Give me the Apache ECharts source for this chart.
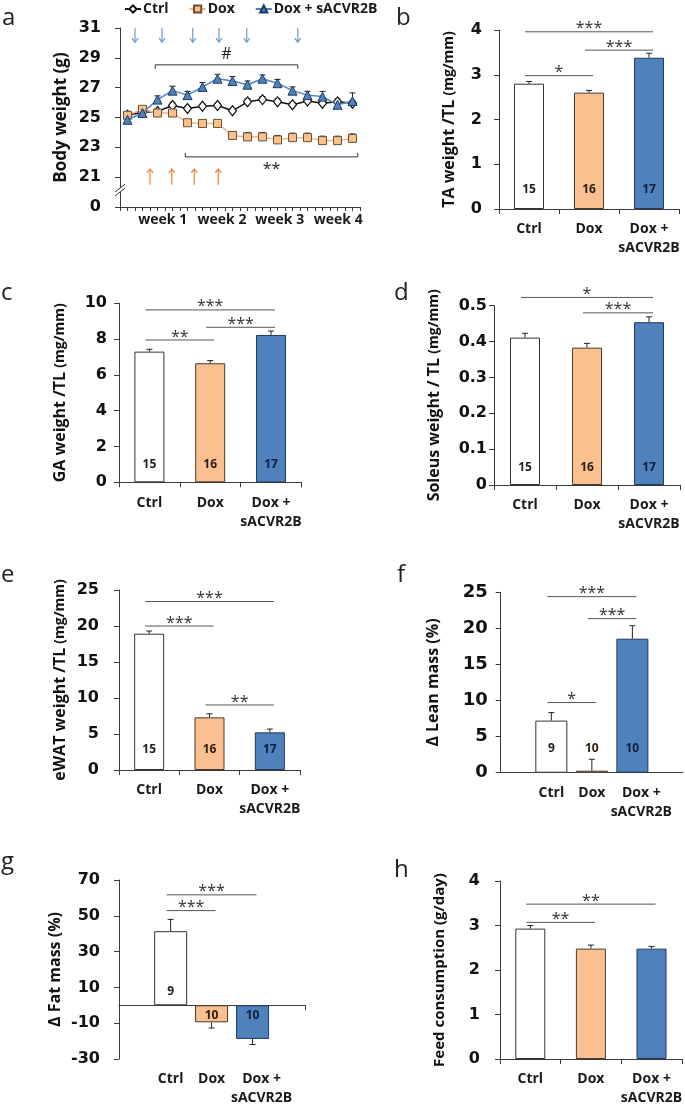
<!DOCTYPE html>
<html><head><meta charset="utf-8">
<script src="https://cdn.jsdelivr.net/npm/echarts@6/dist/echarts.min.js"></script>
<style>html,body{margin:0;padding:0;background:#fff}#c{width:685px;height:1108px}</style>
</head><body><div id="c"></div>
<script>
// ================= DATA =================
const groupLabels = ['Ctrl', 'Dox', 'Dox +\nsACVR2B'];
const seriesNames = ['Ctrl', 'Dox', 'Dox + sACVR2B'];
// label positions on the numeric group axis of panels f and g
const groupLabelPos = [0, 1, 2.22];

// panel a : body weight time course
const timePoints = [1,3,5,7,9,11,13,15,17,19,21,23,25,27,29,31];
const weekLabels = ['week 1','week 2','week 3','week 4'];
const weekPos = [5.7, 13.6, 21.3, 29.1];
const bwCtrl    = [25.15,25.35,25.4,25.8,25.6,25.75,25.8,25.45,26.05,26.2,26.05,25.85,26.1,25.95,26.05,25.95];
const bwCtrlErr = [0.1,0.15,0.15,0.2,0.15,0.15,0.15,0.15,0.2,0.2,0.2,0.15,0.2,0.2,0.2,0.2];
const bwDox     = [25.15,25.55,25.3,25.3,24.65,24.6,24.6,23.8,23.7,23.7,23.5,23.65,23.65,23.45,23.45,23.6];
const bwDoxErr  = [0.15,0.15,0.15,0.15,0.15,0.15,0.2,0.25,0.3,0.3,0.3,0.3,0.3,0.3,0.3,0.3];
const bwSac     = [24.85,25.3,26.2,26.8,26.5,27.05,27.6,27.45,27.2,27.6,27.3,26.8,26.5,26.4,25.85,26.1];
const bwSacErr  = [0.15,0.2,0.25,0.3,0.25,0.3,0.3,0.3,0.25,0.25,0.25,0.25,0.25,0.35,0.3,0.55];
const sacInjections = [2, 5.6, 9.7, 13.2, 16.9, 23.7];
const doxInjections = [4, 6.9, 9.9, 13.1];
const bracketsA = [[4.7, 23.7, 28.53], [8.7, 31.7, 22.36]];
const bracketsAText = ['#', '**'];

// panel b : TA
const taMean = [2.80, 2.60, 3.38];
const taErr  = [0.05, 0.05, 0.10];
const taN    = [15, 16, 17];
const taSig  = [[0,2,3.96],[1,2,3.55],[0,1,2.98]];
const taSigText = ['***','***','*'];
// panel c : GA
const gaMean = [7.30, 6.65, 8.23];
const gaErr  = [0.13, 0.15, 0.22];
const gaN    = [15, 16, 17];
const gaSig  = [[0,2,9.63],[1,2,8.66],[0,1,7.95]];
const gaSigText = ['***','***','**'];
// panel d : Soleus
const solMean = [0.411, 0.383, 0.454];
const solErr  = [0.012, 0.012, 0.015];
const solN    = [15, 16, 17];
const solSig  = [[0,2,0.523],[1,2,0.48]];
const solSigText = ['*','***'];
// panel e : eWAT
const ewatMean = [18.93, 7.31, 5.23];
const ewatErr  = [0.37, 0.5, 0.46];
const ewatN    = [15, 16, 17];
const ewatSig  = [[0,2,23.4],[0,1,20.0],[1,2,9.03]];
const ewatSigText = ['***','***','**'];
// panel f : lean mass
const leanMean = [7.22, 0.28, 18.57];
const leanErr  = [1.11, 1.58, 1.8];
const leanN    = [9, 10, 10];
const leanSig  = [[0,2,24.4],[1,2,21.35],[0,1,9.72]];
const leanSigText = ['***','***','*'];
// panel g : fat mass
const fatMean = [41.4, -9.5, -18.8];
const fatErr  = [6.6, 3.2, 3.1];
const fatN    = [9, 10, 10];
const fatSig  = [[0,2,61.7],[0,1,52.9]];
const fatSigText = ['***','***'];
// panel h : feed
const feedMean = [2.93, 2.48, 2.48];
const feedErr  = [0.07, 0.08, 0.05];
const feedSig  = [[0,2,3.48],[0,1,3.07]];
const feedSigText = ['**','**'];

// ================= STYLE =================
const FONT = '"Open Sans", sans-serif';
const TICKFONT = '"DejaVu Sans", sans-serif';
const AX = '#3a3a3a';
const FILL = ['#FFFFFF', '#FAC090', '#4F81BD'];
const EDGE = ['#333333', '#4a3a2a', '#22395e'];
const NUMCOL = ['#222222', '#2a1d10', '#0f1e3a'];

const grids = [], xAxes = [], yAxes = [], series = [];

function errRender(params, api) {
  const x = api.value(0), v = api.value(1), e = api.value(2);
  const s = v >= 0 ? 1 : -1;
  const p0 = api.coord([x, v]), p1 = api.coord([x, v + s * e]);
  const cap = 3;
  return {type:'group', children:[
    {type:'line', shape:{x1:p0[0], y1:p0[1], x2:p1[0], y2:p1[1]}, style:{stroke:'#222', lineWidth:1}},
    {type:'line', shape:{x1:p1[0]-cap, y1:p1[1], x2:p1[0]+cap, y2:p1[1]}, style:{stroke:'#222', lineWidth:1}}
  ]};
}
function sigRender(texts) {
  return function (params, api) {
    const a = api.coord([api.value(0), api.value(2)]);
    const b = api.coord([api.value(1), api.value(2)]);
    const x1 = a[0] - 4, x2 = b[0] + 4, y = a[1];
    return {type:'group', children:[
      {type:'line', shape:{x1:x1, y1:y, x2:x2, y2:y}, style:{stroke:'#555', lineWidth:1}},
      {type:'text', x:(x1+x2)/2, y:y-3, style:{text:texts[params.dataIndex], fill:'#333', fontSize:16, fontFamily:FONT, align:'center', verticalAlign:'middle'}}
    ]};
  };
}
function countRender(counts, offPos, offNeg) {
  return function (params, api) {
    const k = api.value(0), v = api.value(1);
    const p = api.coord([k, 0]);
    const y = v >= 0 ? p[1] - offPos : p[1] + offNeg;
    return {type:'text', x:p[0], y:y, style:{text:String(counts[params.dataIndex]), fill:NUMCOL[params.dataIndex], fontSize:12, fontWeight:'bold', fontFamily:FONT, align:'center', verticalAlign:'middle'}};
  };
}

function yAxisObj(gi, o) {
  return {
    type:'value', gridIndex:gi, min:o.min, max:o.max, interval:o.interval,
    axisLine:{show:true, onZero:false, lineStyle:{color:AX, width:1}},
    axisTick:{show:true, length:5, lineStyle:{color:AX}},
    splitLine:{show:false},
    axisLabel:{margin:o.yMargin, fontFamily:TICKFONT, fontWeight:'bold', fontSize:o.tickSize || 16, color:'#111', formatter:o.fmt},
    name:o.name, nameLocation:'middle', nameGap:o.nameGap,
    nameTextStyle:{fontFamily:FONT, fontWeight:'bold', fontSize:16, color:'#111',
      rich:{m:{fontFamily:FONT, fontWeight:'bold', fontSize:16, color:'#111'},
            u:{fontFamily:FONT, fontWeight:'bold', fontSize:14, color:'#111'}}}
  };
}

function barPanel(o) {
  const gi = grids.length;
  grids.push({left:o.left, top:o.top, width:o.width, height:o.height, containLabel:false});
  const xi = xAxes.length, yi = yAxes.length;
  const catLabel = {margin:11, fontFamily:FONT, fontWeight:'bold', fontSize:14, color:'#1a1a1a', lineHeight:19, interval:0, hideOverlap:false};
  if (o.valueX) {
    const fmt = v => { const i = groupLabelPos.findIndex(p => Math.abs(p - v) < 1e-6); return i >= 0 ? groupLabels[i] : ''; };
    if (o.zeroLine) {
      xAxes.push({type:'value', gridIndex:gi, min:o.xmin, max:o.xmax, position:'bottom',
        axisLine:{show:true, onZero:true, lineStyle:{color:AX}},
        axisTick:{show:true, length:5, customValues:[o.xmax], lineStyle:{color:AX}},
        axisLabel:{show:false}, splitLine:{show:false}});
      xAxes.push({type:'value', gridIndex:gi, min:o.xmin, max:o.xmax, position:'bottom',
        axisLine:{show:false, onZero:false}, axisTick:{show:false},
        axisLabel:Object.assign({customValues:groupLabelPos, formatter:fmt}, catLabel), splitLine:{show:false}});
    } else {
      xAxes.push({type:'value', gridIndex:gi, min:o.xmin, max:o.xmax,
        axisLine:{show:true, onZero:false, lineStyle:{color:AX}}, axisTick:{show:false},
        axisLabel:Object.assign({customValues:groupLabelPos, formatter:fmt}, catLabel), splitLine:{show:false}});
    }
  } else {
    xAxes.push({type:'category', gridIndex:gi, data:groupLabels,
      axisLine:{show:true, onZero:false, lineStyle:{color:AX}},
      axisTick:{show:true, length:5, lineStyle:{color:AX}},
      axisLabel:catLabel});
  }
  yAxes.push(yAxisObj(gi, o));
  series.push({type:'bar', xAxisIndex:xi, yAxisIndex:yi, barWidth:o.barWidth || 30, silent:true,
    data:o.mean.map((v, k) => ({value: o.valueX ? [k, v] : v,
      itemStyle:{color:FILL[k], borderColor:EDGE[k], borderWidth:1}}))});
  series.push({type:'custom', xAxisIndex:xi, yAxisIndex:yi, silent:true, clip:false, encode:{x:0, y:1},
    data:o.mean.map((v, k) => [k, v, o.err[k]]), renderItem:errRender});
  if (o.n) {
    series.push({type:'custom', xAxisIndex:xi, yAxisIndex:yi, silent:true, clip:false, z:5, encode:{x:0, y:1},
      data:o.mean.map((v, k) => [k, v]), renderItem:countRender(o.n, o.nOff || 19, o.nOffNeg || 10)});
  }
  series.push({type:'custom', xAxisIndex:xi, yAxisIndex:yi, silent:true, clip:false, encode:{x:0, y:2},
    data:o.sig, renderItem:sigRender(o.sigText)});
}

// ---------- panel a ----------
(function () {
  const gi = grids.length;
  grids.push({left:120, top:28, width:240, height:179});
  const xi = xAxes.length, yi = yAxes.length;
  xAxes.push({type:'value', gridIndex:gi, min:0, max:32, interval:1,
    axisLine:{show:true, onZero:false, lineStyle:{color:AX}},
    axisTick:{show:true, length:4, lineStyle:{color:AX}},
    splitLine:{show:false},
    axisLabel:{customValues:weekPos, margin:6, fontFamily:FONT, fontWeight:'bold', fontSize:14, color:'#1a1a1a', hideOverlap:false,
      formatter:v => { const i = weekPos.findIndex(p => Math.abs(p - v) < 1e-6); return i >= 0 ? weekLabels[i] : ''; }}});
  yAxes.push(yAxisObj(gi, {min:19, max:31, interval:2, yMargin:19, tickSize:16,
    fmt:v => v === 19 ? '0' : String(v), name:'Body weight (g)', nameGap:50}));
  yAxes[yi].nameTextStyle.fontSize = 17;

  const errs = [bwCtrlErr, bwDoxErr, bwSacErr];
  const vals = [bwCtrl, bwDox, bwSac];
  vals.forEach((arr, s) => {
    series.push({type:'custom', xAxisIndex:xi, yAxisIndex:yi, silent:true, z:1, encode:{x:0, y:1},
      data:timePoints.map((t, i) => [t, arr[i], errs[s][i]]), renderItem:errRender});
  });
  series.push({name:'Ctrl', type:'line', xAxisIndex:xi, yAxisIndex:yi, z:3,
    data:timePoints.map((t, i) => [t, bwCtrl[i]]), symbol:'diamond', symbolSize:[8, 10],
    itemStyle:{color:'#ffffff', borderColor:'#111', borderWidth:1.2}, lineStyle:{color:'#111', width:1.5}});
  series.push({name:'Dox', type:'line', xAxisIndex:xi, yAxisIndex:yi, z:3,
    data:timePoints.map((t, i) => [t, bwDox[i]]), symbol:'rect', symbolSize:8,
    itemStyle:{color:'#FAC090', borderColor:'#6b4f33', borderWidth:1}, lineStyle:{color:'#F4B183', width:1.5}});
  series.push({name:'Dox + sACVR2B', type:'line', xAxisIndex:xi, yAxisIndex:yi, z:4,
    data:timePoints.map((t, i) => [t, bwSac[i]]), symbol:'triangle', symbolSize:9,
    itemStyle:{color:'#4F81BD', borderColor:'#1F3A60', borderWidth:1}, lineStyle:{color:'#4F81BD', width:1.5}});

  // injection arrows
  function arrowRender(color) {
    return function (params, api) {
      const p0 = api.coord([api.value(0), api.value(1)]);
      const p1 = api.coord([api.value(0), api.value(2)]);
      const d = p1[1] > p0[1] ? 1 : -1;
      return {type:'group', children:[
        {type:'line', shape:{x1:p0[0], y1:p0[1], x2:p1[0], y2:p1[1]}, style:{stroke:color, lineWidth:1.2}},
        {type:'polyline', shape:{points:[[p1[0]-3, p1[1]-4*d], [p1[0], p1[1]], [p1[0]+3, p1[1]-4*d]]}, style:{stroke:color, lineWidth:1.2, fill:null}}
      ]};
    };
  }
  series.push({type:'custom', xAxisIndex:xi, yAxisIndex:yi, silent:true, clip:false, encode:{x:0, y:1},
    data:sacInjections.map(x => [x, 31, 30.05]), renderItem:arrowRender('#6A9AD4')});
  series.push({type:'custom', xAxisIndex:xi, yAxisIndex:yi, silent:true, clip:false, encode:{x:0, y:1},
    data:doxInjections.map(x => [x, 20.5, 21.55]), renderItem:arrowRender('#E8853F')});

  // significance brackets
  series.push({type:'custom', xAxisIndex:xi, yAxisIndex:yi, silent:true, clip:false, encode:{x:0, y:2},
    data:bracketsA, renderItem:function (params, api) {
      const a = api.coord([api.value(0), api.value(2)]);
      const b = api.coord([api.value(1), api.value(2)]);
      const up = params.dataIndex === 0;
      const t = up ? 4 : -4;
      return {type:'group', children:[
        {type:'polyline', shape:{points:[[a[0], a[1]+t], [a[0], a[1]], [b[0], b[1]], [b[0], b[1]+t]]}, style:{stroke:'#333', lineWidth:1, fill:null}},
        {type:'text', x:(a[0]+b[0])/2, y: up ? a[1]-10 : a[1]+13, style:{text:bracketsAText[params.dataIndex], fill:'#222', fontSize:16, fontFamily:FONT, align:'center', verticalAlign:'middle'}}
      ]};
    }});
  // axis break mark
  series.push({type:'custom', xAxisIndex:xi, yAxisIndex:yi, silent:true, clip:false, z:6, encode:{x:0, y:1},
    data:[[0, 20]], renderItem:function (params, api) {
      const p = api.coord([api.value(0), api.value(1)]);
      const x = p[0], y = p[1];
      return {type:'group', children:[
        {type:'polygon', shape:{points:[[x-5, y+4], [x+5, y-4], [x+5, y-8], [x-5, y]]}, style:{fill:'#fff'}},
        {type:'line', shape:{x1:x-5, y1:y+4, x2:x+5, y2:y-4}, style:{stroke:'#333', lineWidth:1}},
        {type:'line', shape:{x1:x-5, y1:y, x2:x+5, y2:y-8}, style:{stroke:'#333', lineWidth:1}}
      ]};
    }});
})();

// ---------- bar panels ----------
barPanel({left:499, top:30, width:180, height:179, min:0, max:4, interval:1, yMargin:17, nameGap:42,
  name:'{m|TA weight /TL }{u|(mg/mm)}', mean:taMean, err:taErr, n:taN, sig:taSig, sigText:taSigText});
barPanel({left:119, top:303.3, width:182.4, height:179, min:0, max:10, interval:2, yMargin:12, nameGap:51,
  name:'{m|GA weight /TL }{u|(mg/mm)}', mean:gaMean, err:gaErr, n:gaN, sig:gaSig, sigText:gaSigText, nOff:18});
barPanel({left:494, top:305.7, width:186, height:179.3, min:0, max:0.5, interval:0.1, yMargin:7, nameGap:52,
  fmt:v => v === 0 ? '0' : v.toFixed(1),
  name:'{m|Soleus weight / TL }{u|(mg/mm)}', mean:solMean, err:solErr, n:solN, sig:solSig, sigText:solSigText, nOff:17});
barPanel({left:119, top:590, width:181, height:180, min:0, max:25, interval:5, yMargin:20, nameGap:51,
  name:'{m|eWAT weight /TL }{u|(mg/mm)}', mean:ewatMean, err:ewatErr, n:ewatN, sig:ewatSig, sigText:ewatSigText, nOff:20});
barPanel({left:500.7, top:592.3, width:182.3, height:180.4, min:0, max:25, interval:5, yMargin:13, nameGap:59, tickSize:18,
  valueX:true, xmin:-1.25, xmax:3.25, barWidth:32,
  name:'Δ Lean mass (%)', mean:leanMean, err:leanErr, n:leanN, sig:leanSig, sigText:leanSigText, nOff:24});
barPanel({left:119, top:880, width:186, height:179.3, min:-30, max:70, interval:20, yMargin:19, nameGap:56,
  valueX:true, zeroLine:true, xmin:-1.26, xmax:3.28, barWidth:33,
  name:'Δ Fat mass (%)', mean:fatMean, err:fatErr, n:fatN, sig:fatSig, sigText:fatSigText, nOff:14, nOffNeg:10});
barPanel({left:500, top:881, width:182.7, height:180, min:0, max:4, interval:1, yMargin:20, nameGap:53,
  name:'Feed consumption (g/day)', mean:feedMean, err:feedErr, sig:feedSig, sigText:feedSigText});
yAxes[yAxes.length - 1].nameTextStyle.fontSize = 15;

// ---------- panel letters ----------
const panelLetters = ['a','b','c','d','e','f','g','h'];
const letterPos = [[2,30],[396,30],[1,305],[394,305],[1,587],[397,587],[1,874],[394,882]];
const graphic = panelLetters.map((t, i) => ({type:'text', x:letterPos[i][0], y:letterPos[i][1],
  style:{text:t, fontSize:24, fontFamily:FONT, fill:'#222', verticalAlign:'bottom'}}));

const chart = echarts.init(document.getElementById('c'), null, {renderer:'canvas'});
chart.setOption({
  animation:false, backgroundColor:'#ffffff',
  grid:grids, xAxis:xAxes, yAxis:yAxes, series:series, graphic:graphic,
  legend:{data:seriesNames, left:124, top:0, padding:[2,0,0,0], itemWidth:16, itemHeight:9, itemGap:20,
    selectedMode:false,
    textStyle:{fontFamily:FONT, fontWeight:'bold', fontSize:14, color:'#1a1a1a', padding:[0,0,0,-3]}}
});
</script></body></html>
